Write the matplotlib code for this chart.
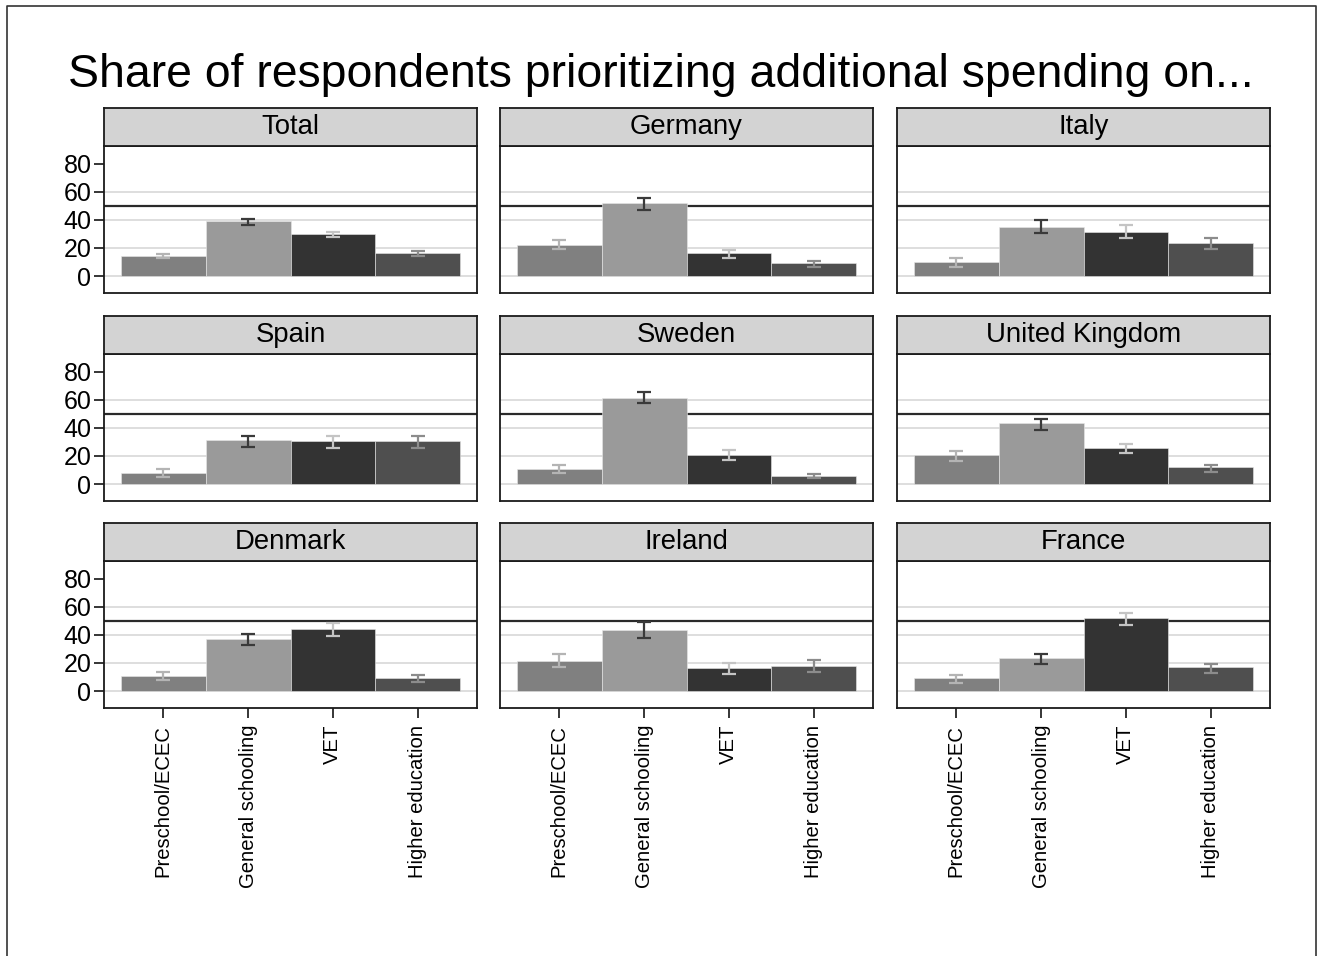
import matplotlib
matplotlib.use('Agg')
import matplotlib.pyplot as plt
from matplotlib.lines import Line2D

plt.rcParams['font.family'] = ['Liberation Sans', 'DejaVu Sans']

title = "Share of respondents prioritizing additional spending on..."
categories = ['Preschool/ECEC', 'General schooling', 'VET', 'Higher education']
countries = ['Total', 'Germany', 'Italy',
             'Spain', 'Sweden', 'United Kingdom',
             'Denmark', 'Ireland', 'France']

# estimated share (%) per country, in category order
share = [
    [14.6, 39.1, 30.2, 16.5],   # Total
    [22.3, 51.8, 16.5, 9.6],    # Germany
    [10.0, 35.2, 31.4, 23.3],   # Italy
    [7.6, 31.4, 30.5, 30.5],    # Spain
    [11.0, 61.4, 20.7, 6.0],    # Sweden
    [20.7, 43.1, 25.7, 11.9],   # United Kingdom
    [11.0, 36.7, 44.5, 9.5],    # Denmark
    [21.7, 43.3, 16.7, 17.9],   # Ireland
    [9.0, 23.8, 52.1, 16.9],    # France
]
ci_low = [
    [12.7, 36.5, 27.6, 14.6],
    [19.2, 47.0, 12.7, 6.5],
    [6.7, 30.5, 26.9, 19.0],
    [5.2, 26.4, 25.7, 26.0],
    [8.1, 57.9, 17.4, 4.0],
    [16.7, 38.8, 21.9, 8.6],
    [8.1, 32.6, 39.3, 6.4],
    [17.1, 37.9, 12.1, 13.6],
    [6.0, 19.5, 47.1, 12.6],
]
ci_high = [
    [15.8, 40.8, 31.2, 17.7],
    [25.9, 55.2, 18.9, 11.0],
    [12.9, 40.0, 36.0, 27.4],
    [10.7, 34.5, 34.0, 34.0],
    [13.6, 65.2, 24.0, 7.4],
    [23.3, 46.4, 28.6, 13.8],
    [13.8, 40.7, 48.1, 11.2],
    [26.4, 49.0, 19.8, 22.4],
    [11.2, 26.4, 55.7, 19.5],
]
reference_line = 50
yticks = [0, 20, 40, 60, 80]
gridlines = [0, 20, 40, 60]

bar_colors = ['#808080', '#9a9a9a', '#333333', '#4f4f4f']
err_colors = ['#b4b4b4', '#3a3a3a', '#c4c4c4', '#8c8c8c']

W, H = 1320, 956
fig = plt.figure(figsize=(W / 100, H / 100), dpi=100)

# outer border (left, top, right)
fig.add_artist(Line2D([7 / W, 7 / W, 1316 / W, 1316 / W],
                      [0, 1 - 6 / H, 1 - 6 / H, 0],
                      transform=fig.transFigure, color='#333333', lw=1.2))

fig.text(661 / W, 1 - 87 / H, title, ha='center', va='baseline', fontsize=33.4)

col_left = [104, 500, 897]
row_top = [146, 354, 561]
pw, ph = 373, 147
strip_h = 38.5

x = [1, 2, 3, 4]
for k, country in enumerate(countries):
    r, c = divmod(k, 3)
    L, T = col_left[c], row_top[r]
    ax = fig.add_axes([L / W, 1 - (T + ph) / H, pw / W, ph / H])
    sax = fig.add_axes([L / W, 1 - T / H, pw / W, strip_h / H])
    sax.set_facecolor('#d3d3d3')
    sax.set_xticks([]); sax.set_yticks([])
    for s in sax.spines.values():
        s.set_linewidth(1.3); s.set_color('#1a1a1a')
    sax.text(0.5, 0.5, country, ha='center', va='center', fontsize=19.8,
             transform=sax.transAxes)

    for g in gridlines:
        ax.axhline(g, color='#dedede', lw=1.4, zorder=0)
    ax.axhline(reference_line, color='#2a2a2a', lw=1.6, zorder=1)
    vals = share[k]
    ax.bar(x, vals, width=1.0, color=bar_colors, edgecolor='#e8e8e8',
           linewidth=0.4, zorder=2)
    for i in range(4):
        lo, hi = ci_low[k][i], ci_high[k][i]
        ax.errorbar(x[i], vals[i], yerr=[[vals[i] - lo], [hi - vals[i]]],
                    fmt='none', ecolor=err_colors[i], elinewidth=1.6,
                    capsize=4.8, capthick=1.6, zorder=3)
    ax.set_xlim(0.3, 4.7)
    ax.set_ylim(-12, 92.5)
    for s in ax.spines.values():
        s.set_linewidth(1.3); s.set_color('#1a1a1a')
    ax.set_yticks(yticks)
    ax.set_xticks(x)
    ax.tick_params(axis='y', length=7, width=1.1, pad=2, labelsize=18)
    ax.tick_params(axis='x', length=7, width=1.1, pad=5, labelsize=14.6)
    if c == 0:
        ax.set_yticklabels([str(v) for v in yticks])
    else:
        ax.tick_params(axis='y', length=0, labelleft=False)
    if r == 2:
        ax.set_xticklabels(categories, rotation=90)
    else:
        ax.tick_params(axis='x', length=0, labelbottom=False)

fig.savefig('out.png', dpi=100, facecolor='white')
